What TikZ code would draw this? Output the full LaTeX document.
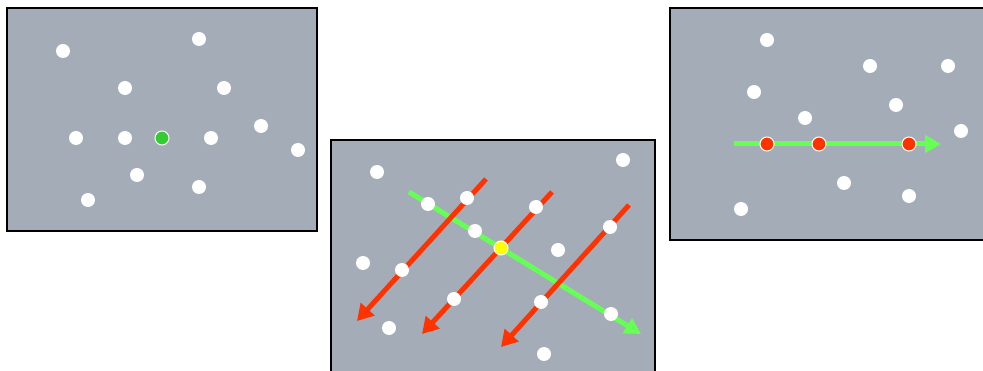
\documentclass[tikz,border=0pt]{standalone}
\usetikzlibrary{arrows.meta}
\definecolor{panelgray}{HTML}{A4ADB7}
\definecolor{redarrow}{HTML}{FF3300}
\definecolor{greenarrow}{HTML}{66FF55}
\definecolor{greendot}{HTML}{33CC33}
\definecolor{yellowdot}{HTML}{FFFF00}
\begin{document}
\begin{tikzpicture}[x=1pt,y=-1pt,
  panel/.style={draw=black,line width=2pt,fill=panelgray},
  wdot/.style={circle,fill=white,inner sep=0pt,minimum size=14pt},
  cdot/.style={circle,draw=white,line width=1pt,inner sep=0pt,minimum size=14pt},
  redline/.style={draw=redarrow,line width=5pt,-{Triangle[length=16pt,width=18pt]}},
  greenline/.style={draw=greenarrow,line width=5pt,-{Triangle[length=16pt,width=17pt]}}]
\useasboundingbox (0,0) rectangle (983,371);
\clip (0,0) rectangle (983,371);
% panel 1
\draw[panel] (7,8) rectangle (317,231);
\node[wdot] (a1) at (63,51) {};
\node[wdot] (a2) at (199,39) {};
\node[wdot] (a3) at (125,88) {};
\node[wdot] (a4) at (224,88) {};
\node[wdot] (a5) at (76,138) {};
\node[wdot] (a6) at (125,138) {};
\node[cdot,fill=greendot] (a7) at (162,138) {};
\node[wdot] (a8) at (211,138) {};
\node[wdot] (a9) at (261,126) {};
\node[wdot] (a10) at (298,150) {};
\node[wdot] (a11) at (137,175) {};
\node[wdot] (a12) at (199,187) {};
\node[wdot] (a13) at (88,200) {};
% panel 2
\draw[panel] (331,140) rectangle (655,380);
\coordinate (g1s) at (409,192);
\coordinate (g1e) at (641,334);
\coordinate (r1s) at (486,179);
\coordinate (r1e) at (357,321);
\coordinate (r2s) at (552,192);
\coordinate (r2e) at (422,334);
\coordinate (r3s) at (629,205);
\coordinate (r3e) at (501,347);
\draw[greenline] (g1s) -- (g1e);
\draw[redline] (r1s) -- (r1e);
\draw[redline] (r2s) -- (r2e);
\draw[redline] (r3s) -- (r3e);
\node[wdot] (b1) at (377,172) {};
\node[wdot] (b2) at (623,160) {};
\node[wdot] (b3) at (428,204) {};
\node[wdot] (b4) at (467,198) {};
\node[wdot] (b5) at (536,207) {};
\node[wdot] (b6) at (475,231) {};
\node[cdot,fill=yellowdot] (b7) at (501,248) {};
\node[wdot] (b8) at (558,250) {};
\node[wdot] (b9) at (363,263) {};
\node[wdot] (b10) at (402,270) {};
\node[wdot] (b11) at (610,227) {};
\node[wdot] (b12) at (454,299) {};
\node[wdot] (b13) at (541,302) {};
\node[wdot] (b14) at (611,314) {};
\node[wdot] (b15) at (389,328) {};
\node[wdot] (b16) at (544,354) {};
% panel 3
\draw[panel] (670,8) rectangle (995,240);
\coordinate (g2s) at (734,144);
\coordinate (g2e) at (941,144);
\draw[greenline] (g2s) -- (g2e);
\node[wdot] (c1) at (767,40) {};
\node[wdot] (c2) at (870,66) {};
\node[wdot] (c3) at (948,66) {};
\node[wdot] (c4) at (754,92) {};
\node[wdot] (c5) at (896,105) {};
\node[wdot] (c6) at (805,118) {};
\node[wdot] (c7) at (961,131) {};
\node[cdot,fill=redarrow] (c8) at (767,144) {};
\node[cdot,fill=redarrow] (c9) at (819,144) {};
\node[cdot,fill=redarrow] (c10) at (909,144) {};
\node[wdot] (c11) at (844,183) {};
\node[wdot] (c12) at (909,196) {};
\node[wdot] (c13) at (741,209) {};
\end{tikzpicture}
\end{document}
